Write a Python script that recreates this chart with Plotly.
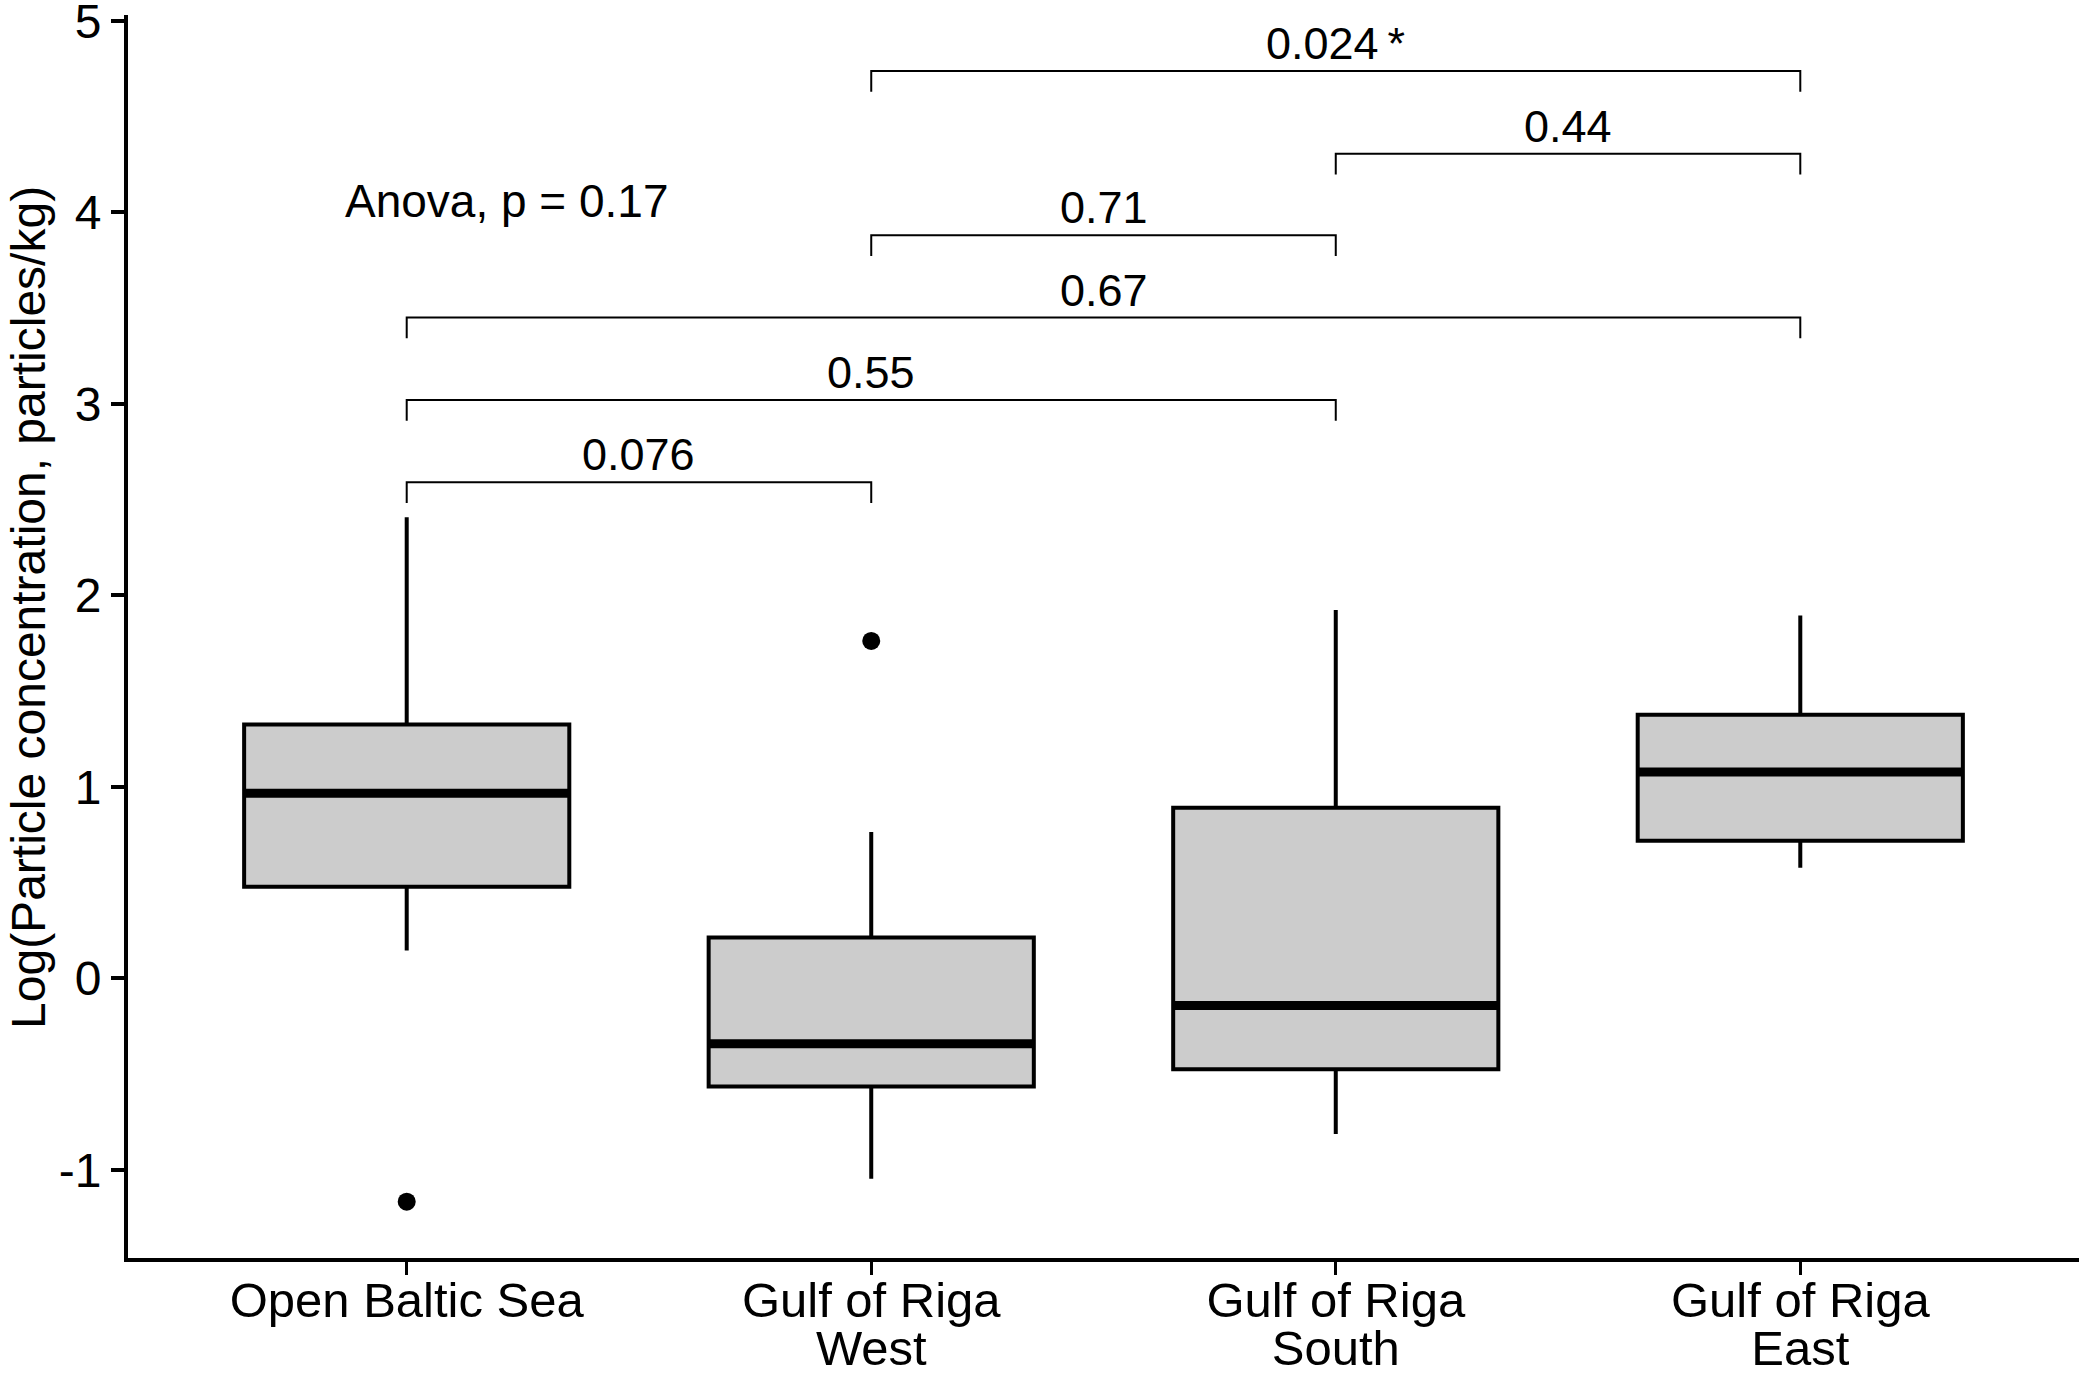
import plotly.graph_objects as go

# group labels (two lines on the x axis)
groups_line1 = ["Open Baltic Sea", "Gulf of Riga", "Gulf of Riga", "Gulf of Riga"]
groups_line2 = ["", "West", "South", "East"]

# box statistics
q1 = [0.479, -0.564, -0.474, 0.718]
median = [0.966, -0.341, -0.141, 1.078]
q3 = [1.325, 0.213, 0.891, 1.376]
lower_whisker = [0.146, -1.046, -0.812, 0.577]
upper_whisker = [2.408, 0.764, 1.924, 1.895]

# outliers: group index, value
outlier_group = [0, 1]
outlier_value = [-1.166, 1.762]

# pairwise comparisons: start group, end group, bracket level, label
pair_a = [0, 0, 0, 1, 2, 1]
pair_b = [1, 2, 3, 2, 3, 3]
pair_y = [2.59, 3.02, 3.45, 3.88, 4.305, 4.737]
pair_label = ["0.076", "0.55", "0.67", "0.71", "0.44", "0.024\u2009*"]

y_ticks = [-1, 0, 1, 2, 3, 4, 5]
y_ticklabels = ["-1", "0", "1", "2", "3", "4", "5"]

anova_text = "Anova, p = 0.17"
y_title = "Log(Particle concentration, particles/kg)"

FONT = "Liberation Sans, Arial, sans-serif"
box_w = 0.7
tip = 0.108

fig = go.Figure()

for i in range(len(q1)):
    fig.add_trace(go.Box(
        x=[i], q1=[q1[i]], median=[median[i]], q3=[q3[i]],
        lowerfence=[lower_whisker[i]], upperfence=[upper_whisker[i]],
        width=box_w, fillcolor="#CCCCCC", whiskerwidth=0,
        line=dict(color="black", width=4), boxpoints=False,
        showlegend=False, hoverinfo="skip",
    ))
    # thick median bar like ggplot
    fig.add_trace(go.Scatter(
        x=[i - box_w / 2, i + box_w / 2], y=[median[i], median[i]],
        mode="lines", line=dict(color="black", width=9),
        showlegend=False, hoverinfo="skip",
    ))

fig.add_trace(go.Scatter(
    x=outlier_group, y=outlier_value, mode="markers",
    marker=dict(color="black", size=18), showlegend=False,
))

# significance brackets
bx, by = [], []
for a, b, yl in zip(pair_a, pair_b, pair_y):
    bx += [a, a, b, b, None]
    by += [yl - tip, yl, yl, yl - tip, None]
fig.add_trace(go.Scatter(x=bx, y=by, mode="lines",
                         line=dict(color="black", width=2),
                         showlegend=False, hoverinfo="skip"))

for a, b, yl, lab in zip(pair_a, pair_b, pair_y, pair_label):
    fig.add_annotation(x=(a + b) / 2, y=yl, text=lab, showarrow=False,
                       yanchor="bottom", yshift=0,
                       font=dict(family=FONT, size=45, color="black"))

fig.add_annotation(x=-0.137, y=4.06, text=anova_text, showarrow=False,
                   xanchor="left", yanchor="middle",
                   font=dict(family=FONT, size=46, color="black"))

fig.add_annotation(x=-0.0513, y=0.5237, xref="paper", yref="paper",
                   text=y_title, textangle=-90, showarrow=False,
                   xanchor="center", yanchor="middle",
                   font=dict(family=FONT, size=48, color="black"))

# invisible trace so the second-line axis is drawn
fig.add_trace(go.Scatter(x=[0], y=[0], xaxis="x2", mode="markers",
                         marker=dict(opacity=0), showlegend=False,
                         hoverinfo="skip"))

x_range = [-0.6, 3.6]

fig.update_layout(
    width=2082, height=1374,
    margin=dict(l=128, r=3, t=15, b=116, autoexpand=False),
    plot_bgcolor="white", paper_bgcolor="white",
    font=dict(family=FONT, color="black"),
    xaxis=dict(range=x_range, tickvals=list(range(4)),
               ticktext=groups_line1, showgrid=False, zeroline=False,
               showline=True, linecolor="black", linewidth=4,
               ticks="outside", ticklen=13, tickwidth=3, tickcolor="black",
               ticklabelstandoff=-17, automargin=False,
               tickfont=dict(family=FONT, size=49, color="black")),
    xaxis2=dict(range=x_range, tickvals=list(range(4)),
                ticktext=groups_line2, overlaying="x", anchor="y",
                side="bottom", showgrid=False, zeroline=False,
                showline=False, ticks="", ticklabelstandoff=57,
                automargin=False,
                tickfont=dict(family=FONT, size=49, color="black")),
    yaxis=dict(range=[-1.46, 5.03], tickvals=y_ticks, ticktext=y_ticklabels,
               showgrid=False, zeroline=False,
               showline=True, linecolor="black", linewidth=4,
               ticks="outside", ticklen=13, tickwidth=4, tickcolor="black",
               ticklabeloverflow="allow", automargin=False,
               tickfont=dict(family=FONT, size=48, color="black")),
)

# drop the page's default body margin so the figure fills the window
fig.write_html("out.html", config={"displayModeBar": False},
               post_script="document.body.style.margin = '0';")
